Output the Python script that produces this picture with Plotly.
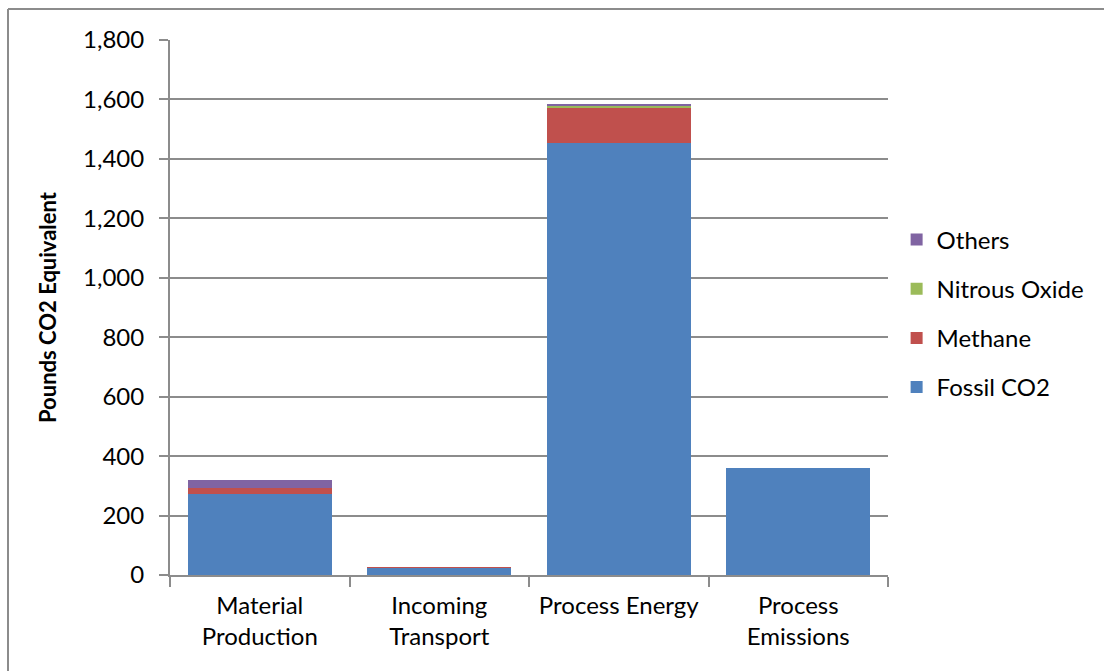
import plotly.graph_objects as go

# Life-cycle greenhouse gas emissions by stage, in pounds of CO2 equivalent
categories = ["Material<br>Production", "Incoming<br>Transport",
              "Process Energy", "Process<br>Emissions"]
fossil_co2 = [271, 24, 1455, 360]
methane = [22, 1, 117, 0]
nitrous_oxide = [1, 0, 8, 0]
others = [25, 0, 2, 0]

y_ticks = [0, 200, 400, 600, 800, 1000, 1200, 1400, 1600, 1800]
y_tick_labels = ["0", "200", "400", "600", "800", "1,000", "1,200", "1,400", "1,600", "1,800"]

series = [
    ("Fossil CO2", fossil_co2, "#4F81BD", 4),
    ("Methane", methane, "#C0504D", 3),
    ("Nitrous Oxide", nitrous_oxide, "#9BBB59", 2),
    ("Others", others, "#8064A2", 1),
]

FONT = "Lato"
GRID = "#8C8C8C"
FS = 24

fig = go.Figure()
for name, values, color, rank in series:
    fig.add_trace(go.Bar(
        x=categories, y=values, name=name, legendgroup=name, legendrank=rank,
        marker=dict(color=color, line=dict(width=0)),
    ))

fig.update_layout(
    barmode="stack",
    bargap=0.2,
    width=1104, height=671,
    margin=dict(l=170, r=216, t=40, b=96),
    paper_bgcolor="white",
    plot_bgcolor="white",
    font=dict(family=FONT, size=FS, color="black"),
    legend=dict(
        x=1.012, y=0.489, xanchor="left", yanchor="middle",
        traceorder="grouped", tracegroupgap=15,
        font=dict(family=FONT, size=FS),
        itemwidth=30,
    ),
    showlegend=True,
)

fig.update_xaxes(
    showline=True, linecolor=GRID, linewidth=2,
    ticks="outside", tickson="boundaries", ticklen=10,
    tickcolor=GRID, tickwidth=2,
    ticklabelstandoff=8,
    showgrid=False,
    tickfont=dict(family=FONT, size=FS),
)
fig.update_yaxes(
    range=[0, 1800],
    tickvals=y_ticks, ticktext=y_tick_labels,
    showline=True, linecolor=GRID, linewidth=2,
    ticks="outside", ticklen=9, tickcolor=GRID, tickwidth=2,
    ticklabelstandoff=10,
    showgrid=True, gridcolor=GRID, gridwidth=2,
    zeroline=False,
    tickfont=dict(family=FONT, size=FS),
    title=dict(text="<b>Pounds CO2 Equivalent</b>",
               font=dict(family=FONT, size=22), standoff=20),
)

# Chart-area frame: top and left edges of the outer border
x_left = (8 - 170) / 718
y_top = (575 - 9) / 535
fig.add_shape(type="line", xref="paper", yref="paper",
              x0=x_left, x1=1.6, y0=y_top, y1=y_top,
              line=dict(color=GRID, width=2), layer="below")
fig.add_shape(type="line", xref="paper", yref="paper",
              x0=x_left, x1=x_left, y0=-0.5, y1=y_top,
              line=dict(color=GRID, width=2), layer="below")

fig.write_html("out.html")
